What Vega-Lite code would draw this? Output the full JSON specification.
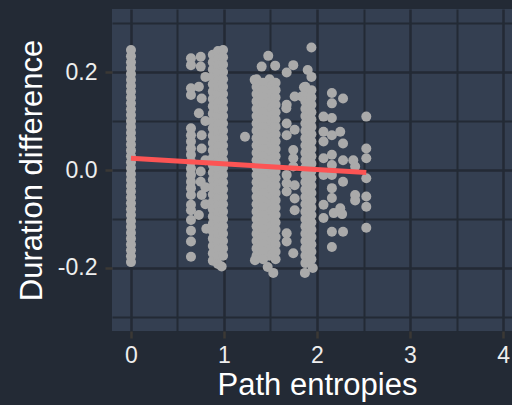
{
"$schema": "https://vega.github.io/schema/vega-lite/v6.json",
"width": 410, "height": 322,
"autosize": {"type": "none"},
"padding": {"left": 112, "top": 9, "right": -10, "bottom": 74},
"background": "#232a35",
"config": {"view": {"fill": "#343f51", "stroke": null}, "font": "Liberation Sans"},
"datasets": {
"pts": [
{"e":0,"d":-0.188},{"e":0,"d":-0.176},{"e":0,"d":-0.164},{"e":0,"d":-0.152},{"e":0,"d":-0.14},{"e":0,"d":-0.128},{"e":0,"d":-0.116},{"e":0,"d":-0.104},{"e":0,"d":-0.092},{"e":0,"d":-0.08},{"e":0,"d":-0.068},{"e":0,"d":-0.056},{"e":0,"d":-0.044},{"e":0,"d":-0.032},{"e":0,"d":-0.02},{"e":0,"d":-0.008},{"e":0,"d":0.004},{"e":0,"d":0.016},{"e":0,"d":0.028},{"e":0,"d":0.04},{"e":0,"d":0.052},{"e":0,"d":0.064},{"e":0,"d":0.076},{"e":0,"d":0.088},{"e":0,"d":0.1},{"e":0,"d":0.112},{"e":0,"d":0.124},{"e":0,"d":0.136},{"e":0,"d":0.148},{"e":0,"d":0.16},{"e":0,"d":0.172},{"e":0,"d":0.184},{"e":0,"d":0.196},{"e":0,"d":0.208},{"e":0,"d":0.22},{"e":0,"d":0.232},{"e":0,"d":0.245},
{"e":0.645,"d":0.228},{"e":0.645,"d":0.214},{"e":0.645,"d":0.167},{"e":0.645,"d":0.153},{"e":0.645,"d":0.085},{"e":0.645,"d":0.071},{"e":0.645,"d":0.058},{"e":0.645,"d":0.044},{"e":0.645,"d":0.031},{"e":0.645,"d":0.017},{"e":0.645,"d":0.003},{"e":0.645,"d":-0.01},{"e":0.645,"d":-0.024},{"e":0.645,"d":-0.037},{"e":0.645,"d":-0.051},{"e":0.645,"d":-0.071},{"e":0.645,"d":-0.082},{"e":0.645,"d":-0.102},{"e":0.645,"d":-0.124},{"e":0.645,"d":-0.146},{"e":0.645,"d":-0.177},
{"e":0.75,"d":0.231},{"e":0.75,"d":0.211},{"e":0.76,"d":0.146},{"e":0.76,"d":0.071},{"e":0.76,"d":0.044},{"e":0.75,"d":-0.003},{"e":0.75,"d":-0.024},{"e":0.76,"d":-0.051},{"e":0.73,"d":-0.092},{"e":0.73,"d":0.17},{"e":0.73,"d":0.116},{"e":0.8,"d":0.19},{"e":0.8,"d":0.1},{"e":0.8,"d":0.02},{"e":0.8,"d":-0.035},{"e":0.8,"d":-0.07},{"e":0.81,"d":-0.12},
{"e":0.88,"d":0.235},{"e":0.88,"d":0.22},{"e":0.88,"d":0.205},{"e":0.88,"d":0.19},{"e":0.88,"d":0.175},{"e":0.88,"d":0.16},{"e":0.88,"d":0.145},{"e":0.88,"d":0.13},{"e":0.88,"d":0.115},{"e":0.88,"d":0.1},{"e":0.88,"d":0.085},{"e":0.88,"d":0.07},{"e":0.88,"d":0.055},{"e":0.88,"d":0.04},{"e":0.88,"d":0.025},{"e":0.88,"d":0.01},{"e":0.88,"d":-0.005},{"e":0.88,"d":-0.02},{"e":0.88,"d":-0.035},{"e":0.88,"d":-0.05},{"e":0.88,"d":-0.065},{"e":0.88,"d":-0.08},{"e":0.88,"d":-0.095},{"e":0.88,"d":-0.11},{"e":0.88,"d":-0.125},{"e":0.88,"d":-0.14},{"e":0.88,"d":-0.155},{"e":0.88,"d":-0.17},{"e":0.88,"d":-0.185},
{"e":0.935,"d":0.243},{"e":0.935,"d":0.228},{"e":0.935,"d":0.213},{"e":0.935,"d":0.198},{"e":0.935,"d":0.183},{"e":0.935,"d":0.168},{"e":0.935,"d":0.153},{"e":0.935,"d":0.138},{"e":0.935,"d":0.123},{"e":0.935,"d":0.108},{"e":0.935,"d":0.093},{"e":0.935,"d":0.078},{"e":0.935,"d":0.063},{"e":0.935,"d":0.048},{"e":0.935,"d":0.033},{"e":0.935,"d":0.018},{"e":0.935,"d":0.003},{"e":0.935,"d":-0.012},{"e":0.935,"d":-0.027},{"e":0.935,"d":-0.042},{"e":0.935,"d":-0.057},{"e":0.935,"d":-0.072},{"e":0.935,"d":-0.087},{"e":0.935,"d":-0.102},{"e":0.935,"d":-0.117},{"e":0.935,"d":-0.132},{"e":0.935,"d":-0.147},{"e":0.935,"d":-0.162},{"e":0.935,"d":-0.177},{"e":0.935,"d":-0.192},
{"e":0.99,"d":0.245},{"e":0.99,"d":0.23},{"e":0.99,"d":0.215},{"e":0.99,"d":0.2},{"e":0.99,"d":0.185},{"e":0.99,"d":0.17},{"e":0.99,"d":0.155},{"e":0.99,"d":0.14},{"e":0.99,"d":0.125},{"e":0.99,"d":0.11},{"e":0.99,"d":0.095},{"e":0.99,"d":0.08},{"e":0.99,"d":0.065},{"e":0.99,"d":0.05},{"e":0.99,"d":0.035},{"e":0.99,"d":0.02},{"e":0.99,"d":0.005},{"e":0.99,"d":-0.01},{"e":0.99,"d":-0.025},{"e":0.99,"d":-0.04},{"e":0.99,"d":-0.055},{"e":0.99,"d":-0.07},{"e":0.99,"d":-0.085},{"e":0.99,"d":-0.1},{"e":0.99,"d":-0.115},{"e":0.99,"d":-0.13},{"e":0.99,"d":-0.145},{"e":0.99,"d":-0.16},{"e":0.99,"d":-0.175},{"e":0.975,"d":-0.197},
{"e":1.226,"d":0.068},
{"e":1.35,"d":0.185},{"e":1.35,"d":0.17},{"e":1.35,"d":0.155},{"e":1.35,"d":0.14},{"e":1.35,"d":0.125},{"e":1.35,"d":0.11},{"e":1.35,"d":0.095},{"e":1.35,"d":0.08},{"e":1.35,"d":0.065},{"e":1.35,"d":0.05},{"e":1.35,"d":0.035},{"e":1.35,"d":0.02},{"e":1.35,"d":0.005},{"e":1.35,"d":-0.01},{"e":1.35,"d":-0.025},{"e":1.35,"d":-0.04},{"e":1.35,"d":-0.055},{"e":1.35,"d":-0.07},{"e":1.35,"d":-0.085},{"e":1.35,"d":-0.1},{"e":1.35,"d":-0.115},{"e":1.35,"d":-0.13},{"e":1.35,"d":-0.145},{"e":1.35,"d":-0.16},{"e":1.35,"d":-0.175},{"e":1.333,"d":-0.184},
{"e":1.49,"d":0.185},{"e":1.49,"d":0.17},{"e":1.49,"d":0.155},{"e":1.49,"d":0.14},{"e":1.49,"d":0.125},{"e":1.49,"d":0.11},{"e":1.49,"d":0.095},{"e":1.49,"d":0.08},{"e":1.49,"d":0.065},{"e":1.49,"d":0.05},{"e":1.49,"d":0.035},{"e":1.49,"d":0.02},{"e":1.49,"d":0.005},{"e":1.49,"d":-0.01},{"e":1.49,"d":-0.025},{"e":1.49,"d":-0.04},{"e":1.49,"d":-0.055},{"e":1.49,"d":-0.07},{"e":1.49,"d":-0.085},{"e":1.49,"d":-0.1},{"e":1.49,"d":-0.115},{"e":1.49,"d":-0.13},{"e":1.49,"d":-0.145},{"e":1.49,"d":-0.16},{"e":1.49,"d":-0.175},{"e":1.47,"d":-0.198},
{"e":1.42,"d":0.178},{"e":1.42,"d":0.163},{"e":1.42,"d":0.148},{"e":1.42,"d":0.133},{"e":1.42,"d":0.118},{"e":1.42,"d":0.103},{"e":1.42,"d":0.088},{"e":1.42,"d":0.073},{"e":1.42,"d":0.058},{"e":1.42,"d":0.043},{"e":1.42,"d":0.028},{"e":1.42,"d":0.013},{"e":1.42,"d":-0.002},{"e":1.42,"d":-0.017},{"e":1.42,"d":-0.032},{"e":1.42,"d":-0.047},{"e":1.42,"d":-0.062},{"e":1.42,"d":-0.077},{"e":1.42,"d":-0.092},{"e":1.42,"d":-0.107},{"e":1.42,"d":-0.122},{"e":1.42,"d":-0.137},{"e":1.42,"d":-0.152},{"e":1.42,"d":-0.167},{"e":1.42,"d":-0.182},
{"e":1.555,"d":0.178},{"e":1.555,"d":0.163},{"e":1.555,"d":0.148},{"e":1.555,"d":0.133},{"e":1.555,"d":0.118},{"e":1.555,"d":0.103},{"e":1.555,"d":0.088},{"e":1.555,"d":0.073},{"e":1.555,"d":0.058},{"e":1.555,"d":0.043},{"e":1.555,"d":0.028},{"e":1.555,"d":0.013},{"e":1.555,"d":-0.002},{"e":1.555,"d":-0.017},{"e":1.555,"d":-0.032},{"e":1.555,"d":-0.047},{"e":1.555,"d":-0.062},{"e":1.555,"d":-0.077},{"e":1.555,"d":-0.092},{"e":1.555,"d":-0.107},{"e":1.555,"d":-0.122},{"e":1.555,"d":-0.137},{"e":1.555,"d":-0.152},{"e":1.555,"d":-0.167},{"e":1.555,"d":-0.182},{"e":1.53,"d":-0.21},
{"e":1.405,"d":0.211},{"e":1.476,"d":0.233},{"e":1.55,"d":0.213},{"e":1.33,"d":0.184},
{"e":1.674,"d":0.199},{"e":1.745,"d":0.214},{"e":1.674,"d":0.133},{"e":1.67,"d":0.126},{"e":1.76,"d":0.15},{"e":1.835,"d":0.15},{"e":1.674,"d":0.095},{"e":1.76,"d":0.082},{"e":1.674,"d":0.071},{"e":1.745,"d":0.041},{"e":1.745,"d":0.024},{"e":1.745,"d":0.007},{"e":1.674,"d":-0.01},{"e":1.674,"d":-0.027},{"e":1.674,"d":-0.044},{"e":1.76,"d":-0.031},{"e":1.76,"d":-0.058},{"e":1.76,"d":-0.082},{"e":1.674,"d":-0.129},{"e":1.674,"d":-0.146},{"e":1.745,"d":-0.17},
{"e":1.875,"d":0.17},{"e":1.875,"d":0.155},{"e":1.875,"d":0.14},{"e":1.875,"d":0.125},{"e":1.875,"d":0.11},{"e":1.875,"d":0.095},{"e":1.875,"d":0.08},{"e":1.875,"d":0.065},{"e":1.875,"d":0.05},{"e":1.875,"d":0.035},{"e":1.875,"d":0.02},{"e":1.875,"d":0.005},{"e":1.875,"d":-0.01},{"e":1.875,"d":-0.025},{"e":1.875,"d":-0.04},{"e":1.875,"d":-0.055},{"e":1.875,"d":-0.07},{"e":1.875,"d":-0.085},{"e":1.875,"d":-0.1},{"e":1.875,"d":-0.115},{"e":1.875,"d":-0.13},{"e":1.875,"d":-0.145},{"e":1.875,"d":-0.16},{"e":1.875,"d":-0.175},{"e":1.875,"d":-0.19},{"e":1.87,"d":-0.21},
{"e":1.94,"d":0.163},{"e":1.94,"d":0.148},{"e":1.94,"d":0.133},{"e":1.94,"d":0.118},{"e":1.94,"d":0.103},{"e":1.94,"d":0.088},{"e":1.94,"d":0.073},{"e":1.94,"d":0.058},{"e":1.94,"d":0.043},{"e":1.94,"d":0.028},{"e":1.94,"d":0.013},{"e":1.94,"d":-0.002},{"e":1.94,"d":-0.017},{"e":1.94,"d":-0.032},{"e":1.94,"d":-0.047},{"e":1.94,"d":-0.062},{"e":1.94,"d":-0.077},{"e":1.94,"d":-0.092},{"e":1.94,"d":-0.107},{"e":1.94,"d":-0.122},{"e":1.94,"d":-0.137},{"e":1.94,"d":-0.152},{"e":1.94,"d":-0.167},{"e":1.94,"d":-0.182},{"e":1.955,"d":-0.2},
{"e":1.94,"d":0.25},{"e":1.9,"d":0.204},{"e":1.94,"d":0.19},{"e":1.86,"d":0.169},
{"e":2.07,"d":0.109},{"e":2.16,"d":0.157},{"e":2.16,"d":0.136},{"e":2.28,"d":0.146},{"e":2.07,"d":0.078},{"e":2.16,"d":0.106},{"e":2.16,"d":0.071},{"e":2.25,"d":0.078},{"e":2.28,"d":0.054},{"e":2.07,"d":0.058},{"e":2.16,"d":0.031},{"e":2.07,"d":0.024},{"e":2.28,"d":0.02},{"e":2.39,"d":0.02},{"e":2.41,"d":0.007},{"e":2.16,"d":0.01},{"e":2.07,"d":-0.01},{"e":2.16,"d":-0.01},{"e":2.28,"d":-0.024},{"e":2.41,"d":-0.051},{"e":2.41,"d":-0.062},{"e":2.16,"d":-0.037},{"e":2.16,"d":-0.057},{"e":2.07,"d":-0.071},{"e":2.07,"d":-0.098},{"e":2.25,"d":-0.078},{"e":2.27,"d":-0.09},{"e":2.18,"d":-0.088},{"e":2.16,"d":-0.126},{"e":2.28,"d":-0.126},{"e":2.16,"d":-0.157},
{"e":2.53,"d":0.109},{"e":2.53,"d":0.044},{"e":2.53,"d":0.024},{"e":2.53,"d":-0.017},{"e":2.53,"d":-0.054},{"e":2.53,"d":-0.075},{"e":2.53,"d":-0.118}
],
"fit": [{"e":0,"d":0.024},{"e":2.53,"d":-0.005}]
},
"layer": [
{"data": {"name": "pts"},
 "mark": {"type": "circle", "size": 100, "color": "#aaaaaa", "opacity": 1},
 "encoding": {
  "x": {"field": "e", "type": "quantitative", "scale": {"domain": [-0.204, 4.204], "nice": false, "zero": false},
   "axis": {"title": "Path entropies", "values": [0,0.5,1,1.5,2,2.5,3,3.5,4],
    "labelExpr": "datum.value % 1 === 0 ? format(datum.value, 'd') : ''",
    "domain": false, "grid": true, "gridColor": "#232a35",
    "gridWidth": {"condition": {"test": "datum.value % 1 !== 0", "value": 2}, "value": 2.5},
    "tickColor": "#3b3835", "tickSize": 7, "tickWidth": 2.5,
    "tickOpacity": {"condition": {"test": "datum.value % 1 !== 0", "value": 0}, "value": 1},
    "labelColor": "#eeeeee", "labelFontSize": 23, "labelPadding": 6, "labelFont": "Liberation Sans",
    "titleColor": "#ffffff", "titleFontSize": 31, "titleFontWeight": "normal", "titlePadding": 3, "titleFont": "Liberation Sans"}},
  "y": {"field": "d", "type": "quantitative", "scale": {"domain": [-0.3286, 0.3286], "nice": false, "zero": false},
   "axis": {"title": "Duration difference", "values": [-0.3,-0.2,-0.1,0,0.1,0.2,0.3],
    "labelExpr": "(abs(datum.value) < 0.25 && abs(round(datum.value*10)) % 2 === 0) ? ((datum.value < -0.001 ? '-' : '') + format(abs(datum.value), '.1f')) : ''",
    "domain": false, "grid": true, "gridColor": "#232a35",
    "gridWidth": {"condition": {"test": "abs(round(datum.value*10)) % 2 === 1", "value": 2}, "value": 2.5},
    "tickColor": "#3b3835", "tickSize": 7, "tickWidth": 2.5,
    "tickOpacity": {"condition": {"test": "abs(round(datum.value*10)) % 2 === 1 || abs(datum.value) > 0.25", "value": 0}, "value": 1},
    "labelColor": "#eeeeee", "labelFontSize": 23, "labelPadding": 8, "labelFont": "Liberation Sans",
    "titleColor": "#ffffff", "titleFontSize": 31, "titleFontWeight": "normal", "titlePadding": 9, "titleFont": "Liberation Sans"}}
 }},
{"data": {"name": "fit"},
 "mark": {"type": "line", "color": "#fc5454", "strokeWidth": 5},
 "encoding": {"x": {"field": "e", "type": "quantitative"}, "y": {"field": "d", "type": "quantitative"}}}
]
}
